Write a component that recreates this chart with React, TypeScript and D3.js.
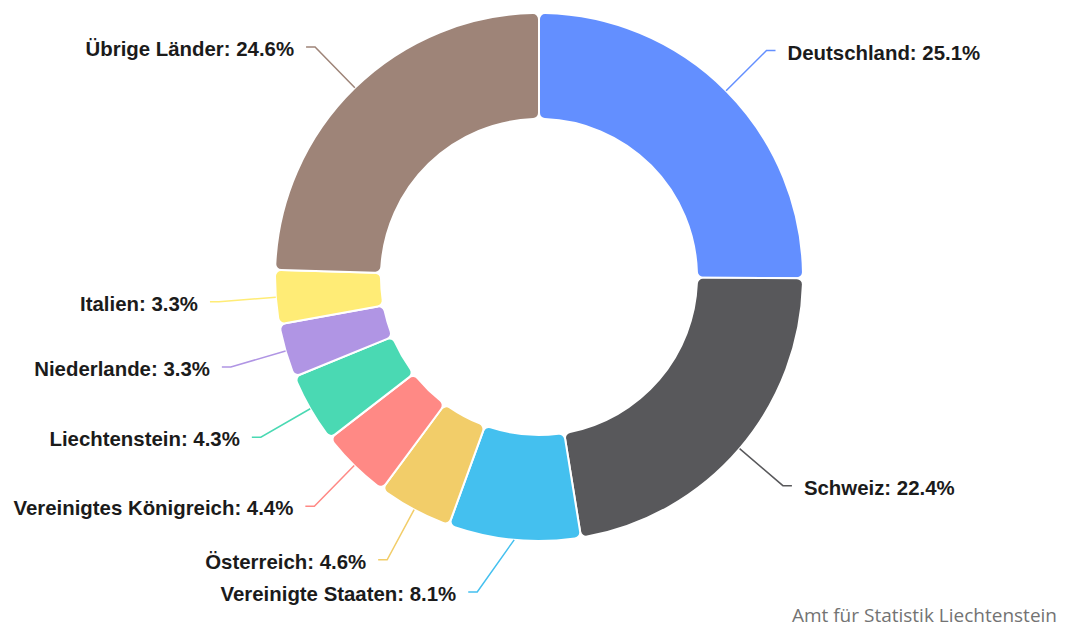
import React from 'react';
import * as d3 from 'd3';

// Anteile nach Herkunftsland, im Uhrzeigersinn ab 12 Uhr
const countries = [
  'Deutschland',
  'Schweiz',
  'Vereinigte Staaten',
  'Österreich',
  'Vereinigtes Königreich',
  'Liechtenstein',
  'Niederlande',
  'Italien',
  'Übrige Länder',
];
const shares = [25.1, 22.4, 8.1, 4.6, 4.4, 4.3, 3.3, 3.3, 24.6];
const colors = [
  '#638fff',
  '#58585b',
  '#44c0ef',
  '#f2cd69',
  '#ff8985',
  '#4ad9b3',
  '#b095e4',
  '#ffec76',
  '#9e8478',
];
const source = 'Amt für Statistik Liechtenstein';

const width = 1066;
const height = 627;
const cx = 539;
const cy = 277;
const outerR = 264;
const innerR = 158;
const labelR = 321;
const maxLabelY = 592;

const App = () => {
  const rows = countries.map((name, i) => ({ name, value: shares[i], color: colors[i] }));

  const pie = d3
    .pie<{ name: string; value: number; color: string }>()
    .value((d) => d.value)
    .sort(null);

  const arc = d3
    .arc<d3.PieArcDatum<{ name: string; value: number; color: string }>>()
    .innerRadius(innerR)
    .outerRadius(outerR)
    .cornerRadius(6);

  const arcs = pie(rows);

  const labels = arcs.map((a) => {
    const mid = (a.startAngle + a.endAngle) / 2;
    const right = Math.sin(mid) >= 0;
    const sx = cx + outerR * Math.sin(mid);
    const sy = cy - outerR * Math.cos(mid);
    const ly = Math.min(cy - labelR * Math.cos(mid), maxLabelY);
    const dy = ly - cy;
    const half = Math.sqrt(Math.max(labelR * labelR - dy * dy, 0));
    const bx = right ? cx + half : cx - half;
    const ex = right ? bx + 9 : bx - 9;
    const tx = right ? ex + 12 : ex - 12;
    return { a, right, sx, sy, ly, bx, ex, tx };
  });

  return (
    <svg
      width={width}
      height={height}
      style={{ position: 'absolute', left: 0, top: 0, display: 'block', background: '#fff' }}
    >
      <g transform={`translate(${cx},${cy})`}>
        {arcs.map((a) => (
          <path key={a.data.name} d={arc(a) || ''} fill={a.data.color} stroke="#fff" strokeWidth={2} />
        ))}
      </g>
      {labels.map((l) => (
        <g key={l.a.data.name}>
          <polyline
            points={`${l.sx},${l.sy} ${l.bx},${l.ly} ${l.ex},${l.ly}`}
            fill="none"
            stroke={l.a.data.color}
            strokeWidth={1.5}
          />
          <text
            x={l.tx}
            y={l.ly + 9}
            textAnchor={l.right ? 'start' : 'end'}
            fontFamily="'Liberation Sans', Arial, sans-serif"
            fontWeight="bold"
            fontSize={20.4}
            fill="#1b1b1b"
          >
            {`${l.a.data.name}: ${l.a.data.value.toFixed(1)}%`}
          </text>
        </g>
      ))}
      <text
        x={1057}
        y={622}
        textAnchor="end"
        fontFamily="'Open Sans', 'Noto Sans', sans-serif"
        fontSize={19}
        fill="#737373"
      >
        {source}
      </text>
    </svg>
  );
};

export default App;
